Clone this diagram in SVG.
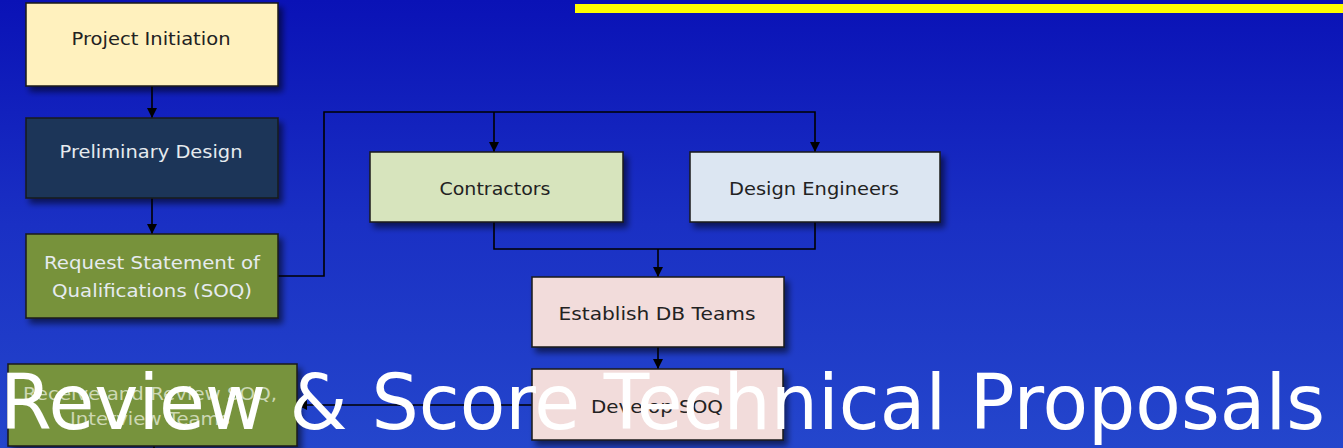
<svg xmlns="http://www.w3.org/2000/svg" width="1343" height="448" viewBox="0 0 1343 448">
  <defs>
    <linearGradient id="bg" x1="0" y1="0" x2="0" y2="1">
      <stop offset="0" stop-color="#0a12b6"/>
      <stop offset="0.5" stop-color="#1a30c4"/>
      <stop offset="1" stop-color="#2446cc"/>
    </linearGradient>
    <filter id="shadow" x="-10%" y="-10%" width="130%" height="140%">
      <feGaussianBlur in="SourceAlpha" stdDeviation="3"/>
      <feOffset dx="4" dy="5" result="b"/>
      <feComponentTransfer><feFuncA type="linear" slope="0.55"/></feComponentTransfer>
      <feMerge><feMergeNode/><feMergeNode in="SourceGraphic"/></feMerge>
    </filter>
    <marker id="arrow" viewBox="0 0 10 10" refX="10" refY="5" markerWidth="10" markerHeight="10" markerUnits="userSpaceOnUse" orient="auto">
      <path d="M0,0 L10,5 L0,10 Z" fill="#000"/>
    </marker>
  </defs>
  <style>
    .box { stroke: #1a1a1a; stroke-width: 1.5; filter: url(#shadow); }
    .lbl { font-family: "DejaVu Sans", "Liberation Sans", sans-serif; font-size: 18px; text-anchor: middle; dominant-baseline: central; }
    .dark { fill: #222; }
    .light { fill: #e6ebef; }
    .muted { fill: #cdd8b4; }
    .wire { fill: none; stroke: #000; stroke-width: 1.6; }
    .title { font-family: "DejaVu Sans", "Liberation Sans", sans-serif; font-size: 76px; fill: #fff; }
  </style>

  <!-- backdrop -->
  <rect width="1343" height="448" fill="url(#bg)"/>
  <rect x="575" y="4" width="768" height="9" fill="#ffff00"/>

  <!-- connectors -->
  <g id="connectors">
    <path class="wire" d="M152,86 V118" marker-end="url(#arrow)"/>
    <path class="wire" d="M152,198 V234" marker-end="url(#arrow)"/>
    <path class="wire" d="M278,276 H324 V112 H815 V152" marker-end="url(#arrow)"/>
    <path class="wire" d="M494,112 V152" marker-end="url(#arrow)"/>
    <path class="wire" d="M494,222 V249 H815 V222"/>
    <path class="wire" d="M658,249 V277" marker-end="url(#arrow)"/>
    <path class="wire" d="M658,347 V369" marker-end="url(#arrow)"/>
    <path class="wire" d="M532,405 H297" marker-end="url(#arrow)"/>
    <path class="wire" d="M154,446 V448"/>
  </g>

  <g id="project-initiation">
    <rect class="box" x="26" y="3" width="252" height="83" fill="#fff1be"/>
    <text class="lbl dark" x="151" y="38" textLength="159" lengthAdjust="spacingAndGlyphs">Project Initiation</text>
  </g>

  <g id="preliminary-design">
    <rect class="box" x="26" y="118" width="252" height="80" fill="#1b3658"/>
    <text class="lbl light" x="151" y="151" textLength="183" lengthAdjust="spacingAndGlyphs">Preliminary Design</text>
  </g>

  <g id="request-soq">
    <rect class="box" x="26" y="234" width="252" height="84" fill="#77923a"/>
    <text class="lbl light" x="152" y="262" textLength="216" lengthAdjust="spacingAndGlyphs">Request Statement of</text>
    <text class="lbl light" x="152" y="290" textLength="200" lengthAdjust="spacingAndGlyphs">Qualifications (SOQ)</text>
  </g>

  <g id="contractors">
    <rect class="box" x="370" y="152" width="253" height="70" fill="#d7e4bd"/>
    <text class="lbl dark" x="495" y="188" textLength="111" lengthAdjust="spacingAndGlyphs">Contractors</text>
  </g>

  <g id="design-engineers">
    <rect class="box" x="690" y="152" width="250" height="70" fill="#dce6f2"/>
    <text class="lbl dark" x="814" y="188" textLength="170" lengthAdjust="spacingAndGlyphs">Design Engineers</text>
  </g>

  <g id="establish-db-teams">
    <rect class="box" x="532" y="277" width="252" height="70" fill="#f2dcdb"/>
    <text class="lbl dark" x="657" y="313" textLength="197" lengthAdjust="spacingAndGlyphs">Establish DB Teams</text>
  </g>

  <g id="develop-soq">
    <rect class="box" x="532" y="369" width="251" height="71" fill="#f2dcdb"/>
    <text class="lbl dark" x="657" y="406" textLength="132" lengthAdjust="spacingAndGlyphs">Develop SOQ</text>
  </g>

  <g id="receive-review-soq">
    <rect class="box" x="8" y="364" width="289" height="82" fill="#77933c"/>
    <text class="lbl muted" x="150" y="393" textLength="254" lengthAdjust="spacingAndGlyphs">Receive and Review SOQ,</text>
    <text class="lbl muted" x="150" y="418" textLength="160" lengthAdjust="spacingAndGlyphs">Interview Teams</text>
  </g>

  <!-- slide heading, drawn over the lower boxes -->
  <text class="title" x="0" y="429" textLength="1325" lengthAdjust="spacingAndGlyphs">Review &amp; Score Technical Proposals</text>
</svg>
